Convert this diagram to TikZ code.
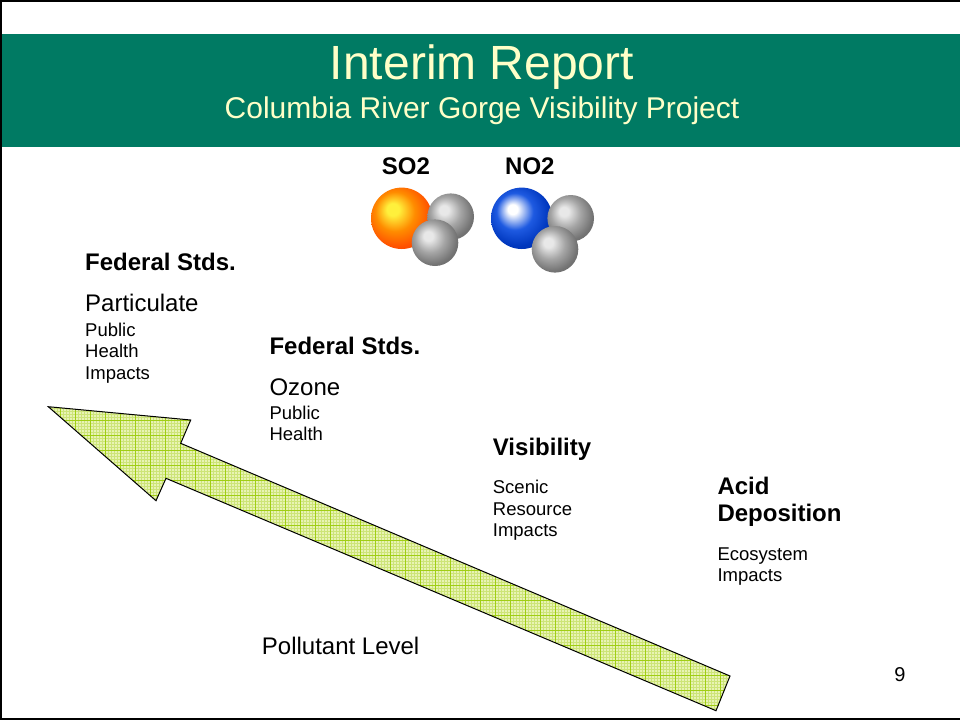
\documentclass[tikz,border=0pt]{standalone}
\usepackage{fontspec}
\setmainfont{Liberation Sans}
\usepackage{tikz}
\usetikzlibrary{positioning}
\definecolor{bannergreen}{RGB}{0,122,99}
\definecolor{bannertext}{RGB}{255,255,200}
\definecolor{gridpale}{RGB}{232,243,180}
\definecolor{gridminor}{RGB}{205,228,120}
\definecolor{gridmajor}{RGB}{160,206,20}
\definecolor{sulfurhi}{RGB}{255,240,60}
\definecolor{sulfurmid}{RGB}{255,140,0}
\definecolor{sulfurlo}{RGB}{255,80,0}
\definecolor{sulfurrim}{RGB}{215,50,0}
\definecolor{nitrohi}{RGB}{255,255,255}
\definecolor{nitromid}{RGB}{30,90,225}
\definecolor{nitrolo}{RGB}{0,55,190}
\definecolor{nitrorim}{RGB}{0,30,120}
\definecolor{oxyhi}{RGB}{232,232,232}
\definecolor{oxymid}{RGB}{165,165,165}
\definecolor{oxylo}{RGB}{115,115,115}
\definecolor{oxyrim}{RGB}{80,80,80}
\pgfdeclareradialshading{sulfurball}{\pgfpoint{-8bp}{8bp}}{color(0bp)=(sulfurhi); color(5bp)=(sulfurhi); color(16bp)=(sulfurmid); color(27bp)=(sulfurlo); color(50bp)=(sulfurrim)}
\pgfdeclareradialshading{nitroball}{\pgfpoint{-8bp}{8bp}}{color(0bp)=(nitrohi); color(4bp)=(nitrohi); color(15bp)=(nitromid); color(26bp)=(nitrolo); color(50bp)=(nitrorim)}
\pgfdeclareradialshading{oxyball}{\pgfpoint{-8bp}{8bp}}{color(0bp)=(oxyhi); color(5bp)=(oxyhi); color(16bp)=(oxymid); color(27bp)=(oxylo); color(50bp)=(oxyrim)}
\tikzstyle{title}=[anchor=base,inner sep=0pt,text=bannertext,font=\fontsize{48}{52}\selectfont]
\tikzstyle{subtitle}=[anchor=base,inner sep=0pt,text=bannertext,font=\fontsize{30}{34}\selectfont]
\tikzstyle{heading}=[anchor=base west,inner sep=0pt,align=left,font=\fontsize{24}{27.7}\selectfont\bfseries]
\tikzstyle{topic}=[anchor=base west,inner sep=0pt,font=\fontsize{24}{28}\selectfont]
\tikzstyle{detail}=[anchor=base west,inner sep=0pt,align=left,font=\fontsize{18.5}{21.7}\selectfont]
\tikzstyle{arrowline}=[draw=black,line width=1pt,line join=miter]

\begin{document}
\begin{tikzpicture}[x=1pt,y=-1pt]
\useasboundingbox (0,0) rectangle (960,721);
% frame and banner
\draw[line width=2pt] (962,1) -- (1,1) -- (1,719) -- (962,719);
\fill[bannergreen] (2,34) rectangle (960,147);
\node[title] (title) at (482,79) {Interim Report};
\node[subtitle] (subtitle) at (482,118) {Columbia River Gorge Visibility Project};

% molecules
\node[heading] (so2) at (381.7,174) {SO2};
\node[heading] (no2) at (505,174) {NO2};
\shade[shading=sulfurball] (401.7,218.3) circle (30.7);
\shade[shading=oxyball] (450.7,216.7) circle (23.3);
\shade[shading=oxyball] (435,242.7) circle (23.3);
\shade[shading=nitroball] (521.7,218.3) circle (30.7);
\shade[shading=oxyball] (570.7,218.3) circle (23.3);
\shade[shading=oxyball] (555,249.3) circle (23.3);

% big arrow
\coordinate (tip) at (48.3,406.7);
\coordinate (headtop) at (190.7,420);
\coordinate (notchtop) at (180.7,443.3);
\coordinate (tailtop) at (730,676);
\coordinate (tailbot) at (716,710.7);
\coordinate (notchbot) at (166,478.3);
\coordinate (headbot) at (156,500.7);
\fill[gridpale] (tip) -- (headtop) -- (notchtop) -- (tailtop) -- (tailbot) -- (notchbot) -- (headbot) -- cycle;
\begin{scope}
\clip (tip) -- (headtop) -- (notchtop) -- (tailtop) -- (tailbot) -- (notchbot) -- (headbot) -- cycle;
\draw[gridminor,line width=0.5pt,step=3pt] (40,400) grid (740,715);
\draw[gridmajor,line width=0.9pt,step=15pt] (40,400) grid (740,715);
\end{scope}
\draw[arrowline] (tip) -- (headtop) -- (notchtop) -- (tailtop) -- (tailbot) -- (notchbot) -- (headbot) -- cycle;

% 1st column (multi-line nodes sit on their last baseline)
\node[heading] (fedpm) at (85,270) {Federal Stds.};
\node[topic] (pm) at (85,311.7) {Particulate};
\node[detail] (pmtext) at (85,379.4) {Public\\Health\\Impacts};
% 2nd column
\node[heading] (fedozone) at (269.3,354) {Federal Stds.};
\node[topic] (ozone) at (269.3,395) {Ozone};
\node[detail] (ozonetext) at (269.3,440.7) {Public\\Health};
% 3rd column
\node[heading] (vis) at (492.7,455) {Visibility};
\node[detail] (vistext) at (492.7,536.7) {Scenic\\Resource\\Impacts};
% 4th column
\node[heading] (acid) at (717.3,521.7) {Acid\\Deposition};
\node[detail] (acidtext) at (717.3,581.7) {Ecosystem\\Impacts};

\node[topic] (level) at (261.7,654.3) {Pollutant Level};
\node[anchor=base,inner sep=0pt,font=\fontsize{20}{24}\selectfont] (page) at (900,681.7) {9};
\end{tikzpicture}
\end{document}
